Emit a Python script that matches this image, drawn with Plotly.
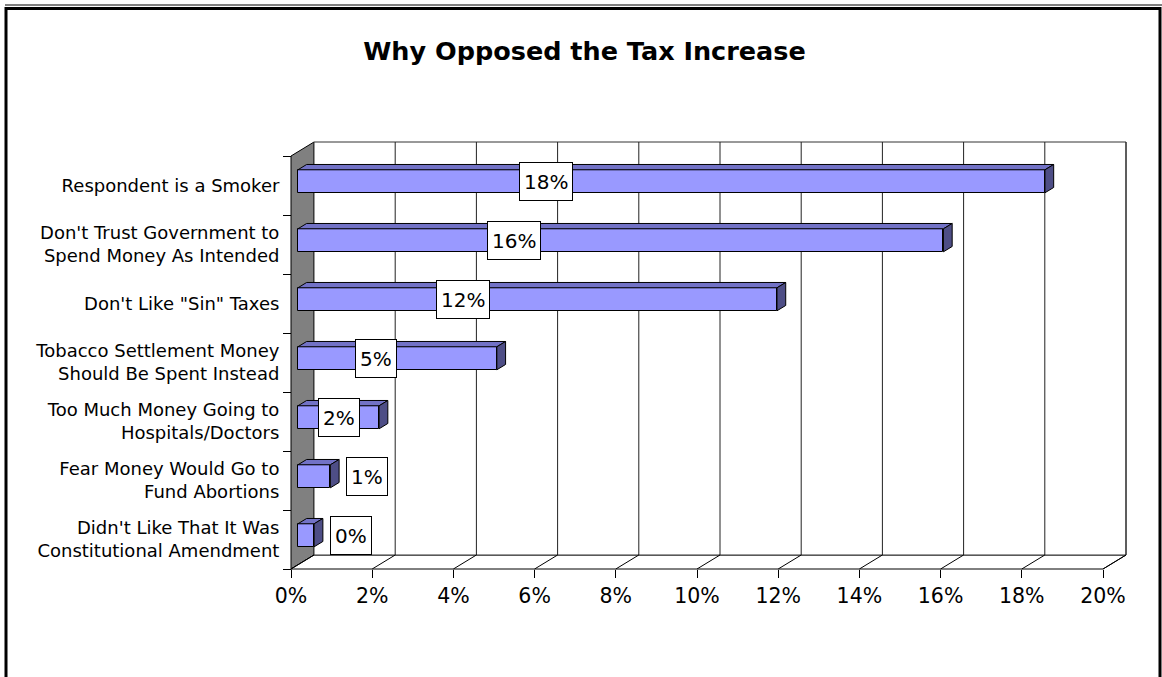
import plotly.graph_objects as go

# ---------------- data ----------------
categories = [
    "Respondent is a Smoker",
    "Don't Trust Government to<br>Spend Money As Intended",
    "Don't Like \"Sin\" Taxes",
    "Tobacco Settlement Money<br>Should Be Spent Instead",
    "Too Much Money Going to<br>Hospitals/Doctors",
    "Fear Money Would Go to<br>Fund Abortions",
    "Didn't Like That It Was<br>Constitutional Amendment",
]
values = [18.4, 15.9, 11.8, 4.9, 2.0, 0.8, 0.4]
value_labels = ["18%", "16%", "12%", "5%", "2%", "1%", "0%"]
x_ticks = [0, 2, 4, 6, 8, 10, 12, 14, 16, 18, 20]
x_tick_text = ["0%", "2%", "4%", "6%", "8%", "10%", "12%", "14%", "16%", "18%", "20%"]
title_text = "Why Opposed the Tax Increase"

# ---------------- geometry / style ----------------
W, H = 1162, 677
PX_PER_PCT = 40.6
PX_PER_CAT = 59.0
DEPTH_PX = (23.0, 14.0)
PAD = 6
FRONT_L, FRONT_B = 291, 569
DX = DEPTH_PX[0] / PX_PER_PCT
DY = DEPTH_PX[1] / PX_PER_CAT
n = len(categories)
x_end = x_ticks[-1]
y_lo, y_hi = -0.5, n - 0.5

plot_l = FRONT_L - PAD
plot_b = FRONT_B + PAD
plot_r = FRONT_L + x_end * PX_PER_PCT + DEPTH_PX[0] + PAD
plot_t = FRONT_B - n * PX_PER_CAT - DEPTH_PX[1] - PAD
plotW = plot_r - plot_l
plotH = plot_b - plot_t

x_range = [-PAD / PX_PER_PCT, x_end + DX + PAD / PX_PER_PCT]
y_range = [y_lo - PAD / PX_PER_CAT, y_hi + DY + PAD / PX_PER_CAT]

F0, FD = 0.30, 0.38          # bar depth placement (fraction of box depth)
bx, by = F0 * DX, F0 * DY
bdx, bdy = FD * DX, FD * DY
bar_h = 23.0 / PX_PER_CAT

FRONT_C = "#9999FF"
TOP_C = "#7272C6"
SIDE_C = "#4E4E86"
FONT = "DejaVu Sans"

pos = [n - 1 - i for i in range(n)]  # top to bottom

fig = go.Figure()

# top and side faces of the 3D bars
tx, ty, sx, sy = [], [], [], []
for c, v in zip(pos, values):
    x0, x1 = bx, bx + v
    yb = c + by - bar_h / 2
    yt = yb + bar_h
    tx += [x0, x1, x1 + bdx, x0 + bdx, x0, None]
    ty += [yt, yt, yt + bdy, yt + bdy, yt, None]
    sx += [x1, x1 + bdx, x1 + bdx, x1, x1, None]
    sy += [yb, yb + bdy, yt + bdy, yt, yb, None]

fig.add_trace(go.Bar(
    y=pos, x=values, base=bx, orientation="h",
    width=bar_h, offset=by - bar_h / 2,
    marker=dict(color=FRONT_C, line=dict(color="black", width=1)),
    hoverinfo="skip", showlegend=False,
))
fig.add_trace(go.Scatter(x=tx, y=ty, mode="lines", fill="toself", fillcolor=TOP_C,
                         line=dict(color="black", width=1), hoverinfo="skip", showlegend=False))
fig.add_trace(go.Scatter(x=sx, y=sy, mode="lines", fill="toself", fillcolor=SIDE_C,
                         line=dict(color="black", width=1), hoverinfo="skip", showlegend=False))
# invisible trace for the tick overlay axis
fig.add_trace(go.Scatter(x=[0], y=[0], yaxis="y2", mode="markers",
                         marker=dict(opacity=0), hoverinfo="skip", showlegend=False))

# ---------------- walls / floor ----------------
shapes = []
shapes.append(dict(type="path", xref="x", yref="y", layer="below",
                   path=f"M 0,{y_lo} L 0,{y_hi} L {DX},{y_hi+DY} L {DX},{y_lo+DY} Z",
                   fillcolor="#808080", line=dict(color="black", width=1)))
shapes.append(dict(type="path", xref="x", yref="y", layer="below",
                   path=f"M 0,{y_lo} L {x_end},{y_lo} L {x_end+DX},{y_lo+DY} L {DX},{y_lo+DY} Z",
                   fillcolor="white", line=dict(color="black", width=1)))
shapes.append(dict(type="rect", xref="x", yref="y", layer="below",
                   x0=DX, x1=x_end + DX, y0=y_lo + DY, y1=y_hi + DY,
                   fillcolor="white", line=dict(color="#333333", width=1)))
for t in x_ticks[1:]:
    shapes.append(dict(type="line", xref="x", yref="y", layer="below",
                       x0=t + DX, x1=t + DX, y0=y_lo + DY, y1=y_hi + DY,
                       line=dict(color="#222222", width=1)))
for t in x_ticks:
    shapes.append(dict(type="line", xref="x", yref="y", layer="below",
                       x0=t, x1=t + DX, y0=y_lo, y1=y_lo + DY,
                       line=dict(color="black", width=1)))

# outer frame
def pxp(px):
    return (px - plot_l) / plotW

def pyp(py):
    return (plot_b - py) / plotH

shapes.append(dict(type="rect", xref="paper", yref="paper",
                   x0=pxp(6), x1=pxp(1160), y0=pyp(8.5), y1=pyp(700),
                   fillcolor="rgba(0,0,0,0)", line=dict(color="black", width=3)))
shapes.append(dict(type="line", xref="paper", yref="paper",
                   x0=pxp(5), x1=pxp(1162), y0=pyp(5), y1=pyp(5),
                   line=dict(color="black", width=1)))

# ---------------- data labels ----------------
annotations = []
for c, v, lab in zip(pos, values, value_labels):
    if v >= 2:
        lx = bx + 0.31 * v + 0.4
    else:
        lx = bx + v + 0.9
    annotations.append(dict(x=lx, y=c + by, xref="x", yref="y", text=lab,
                            showarrow=False, bgcolor="white", bordercolor="black",
                            borderwidth=1, borderpad=4, height=29,
                            font=dict(family=FONT, size=20, color="black")))

fig.update_layout(
    width=W, height=H,
    margin=dict(l=plot_l, r=W - plot_r, t=plot_t, b=H - plot_b, pad=0),
    paper_bgcolor="white", plot_bgcolor="rgba(0,0,0,0)",
    title=dict(text=f"<b>{title_text}</b>", x=584.5 / W, xref="container",
               y=1 - 51 / H, yref="container", xanchor="center", yanchor="middle",
               font=dict(family=FONT, size=25.5, color="black")),
    shapes=shapes, annotations=annotations,
    bargap=0, showlegend=False,
    xaxis=dict(range=x_range, tickvals=x_ticks, ticktext=x_tick_text,
               showgrid=False, zeroline=False, showline=False,
               ticks="outside", ticklen=8, tickcolor="black", tickwidth=1,
               anchor="free", position=PAD / plotH,
               tickfont=dict(family=FONT, size=20.5, color="black")),
    yaxis=dict(range=y_range, tickvals=pos, ticktext=categories,
               showgrid=False, zeroline=False, showline=False,
               ticks="outside", ticklen=8, tickcolor="rgba(0,0,0,0)",
               anchor="free", position=PAD / plotW,
               tickfont=dict(family=FONT, size=18, color="black")),
    yaxis2=dict(range=y_range, overlaying="y", side="left",
                tickvals=[k - 0.5 for k in range(n + 1)], showticklabels=False,
                showgrid=False, zeroline=False, showline=False,
                ticks="outside", ticklen=8, tickcolor="black", tickwidth=1,
                anchor="free", position=PAD / plotW),
)

fig.write_html("out.html", config={"displayModeBar": False},
               post_script="document.body.style.margin='0';document.body.style.overflow='hidden';")
